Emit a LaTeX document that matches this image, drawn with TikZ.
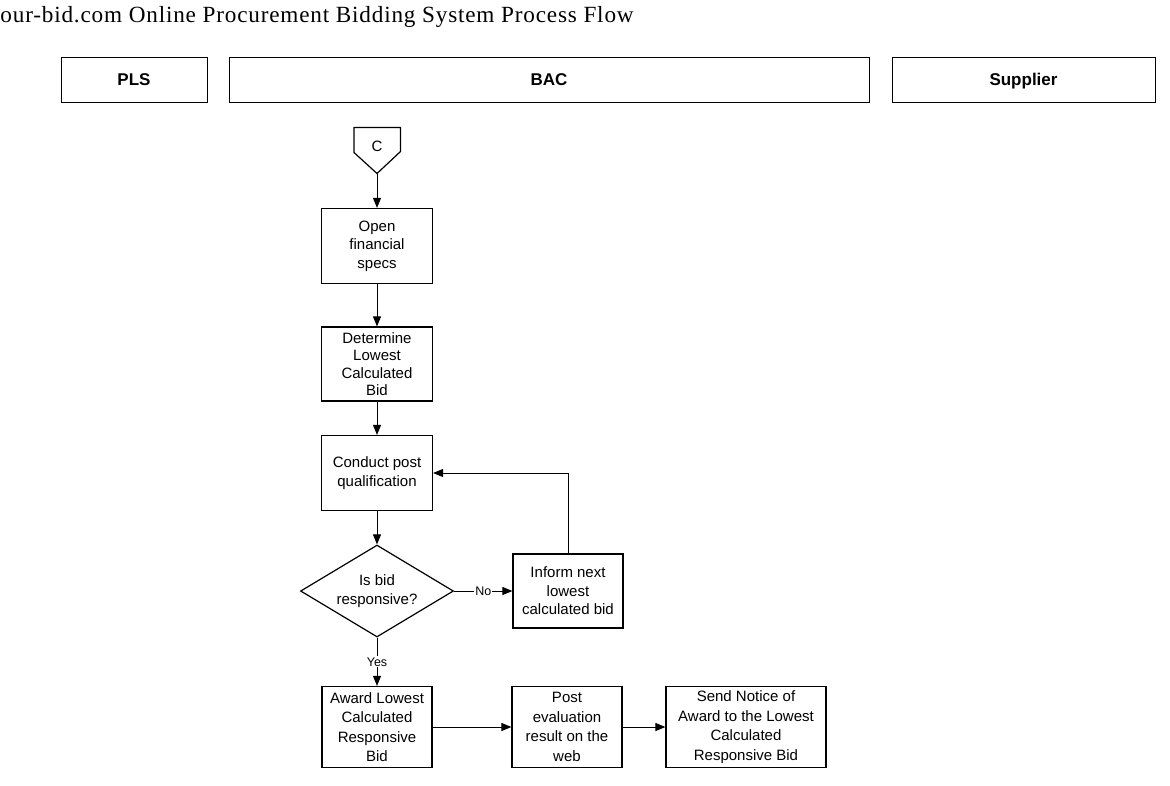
\documentclass[tikz,border=0pt]{standalone}
\usepackage{fontspec}
\setmainfont{Liberation Sans}
\newfontfamily\titlefont[LetterSpace=3.5]{Liberation Serif}
\usetikzlibrary{arrows.meta,shapes.geometric}
\tikzstyle{lane} = [rectangle, draw, line width=1pt, minimum height=45pt,
    text height=12pt, text depth=0pt, font=\bfseries\fontsize{17}{20}\selectfont]
\tikzstyle{task} = [rectangle, draw, line width=1.2pt, align=center, inner sep=1pt,
    minimum width=111pt, minimum height=75pt, font=\fontsize{15}{18.5}\selectfont]
\tikzstyle{decide} = [diamond, draw, line width=1.2pt, align=center, inner sep=0pt,
    aspect=1.66, minimum width=153pt, minimum height=92pt, font=\fontsize{15}{18.5}\selectfont]
\tikzstyle{lbl} = [fill=white, inner sep=1pt, font=\fontsize{12.5}{14}\selectfont]

\begin{document}
\begin{tikzpicture}[x=1pt,y=-1pt,node distance=118pt,line width=1pt,
    >={Triangle[length=10pt,width=8pt]}]
  \useasboundingbox (0,0) rectangle (1170,785);
  \node[anchor=base west,inner sep=0pt] (title) at (0,22)
    {\titlefont\fontsize{23.2}{26}\selectfont our-bid.com Online Procurement Bidding System Process Flow};

  \node[lane,minimum width=146pt] (pls) at (134,79.5) {PLS};
  \node[lane,minimum width=640pt] (bac) at (549,79.5) {BAC};
  \node[lane,minimum width=263pt] (sup) at (1023.5,79.5) {Supplier};

  \node[minimum width=46pt,minimum height=36pt,inner sep=0pt,
    font=\fontsize{15}{18}\selectfont] (c) at (377,146) {C};
  \coordinate (ctip) at ([yshift=-9pt]c.south);
  \draw[line width=1.2pt,line join=miter] (ctip) -- ++(-23pt,21pt) |- (c.north east)
    -- ++(0,-24pt) -- cycle;

  \node[task] (open) [below of=c,yshift=18pt] {Open\\financial\\specs};
  \node[task,minimum height=74pt,font=\fontsize{15}{17.5}\selectfont] (det) [below of=open]
    {Determine\\Lowest\\Calculated\\Bid};
  \node[task] (cond) [below of=det,yshift=9pt] {Conduct post\\qualification};
  \node[decide] (dec) [below of=cond] {Is bid\\responsive?};
  \node[task,minimum width=110pt,minimum height=74pt] (inf) [right of=dec,xshift=73pt]
    {Inform next\\lowest\\calculated bid};
  \node[task,minimum width=110pt,minimum height=81pt,font=\fontsize{15}{19.5}\selectfont]
    (award) [below of=dec,yshift=-18pt] {Award Lowest\\Calculated\\Responsive\\Bid};
  \node[task,minimum width=110pt,minimum height=81pt,font=\fontsize{15}{19.5}\selectfont]
    (post) [right of=award,xshift=72pt] {Post\\evaluation\\result on the\\web};
  \node[task,minimum width=160pt,minimum height=81pt,font=\fontsize{15}{19.5}\selectfont]
    (send) [right of=post,xshift=61pt] {Send Notice of\\Award to the Lowest\\Calculated\\Responsive Bid};

  \path[->] (ctip) edge node {} (open);
  \path[->] (open) edge node {} (det);
  \path[->] (det) edge node {} (cond);
  \path[->] (cond) edge node {} (dec);
  \path[->] (dec) edge node[lbl] {No} (inf);
  \path[->] (dec) edge node[lbl] {Yes} (award);
  \draw[->] (inf.north) |- (cond.east);
  \path[->] (award) edge node {} (post);
  \path[->] (post) edge node {} (send);
\end{tikzpicture}
\end{document}
